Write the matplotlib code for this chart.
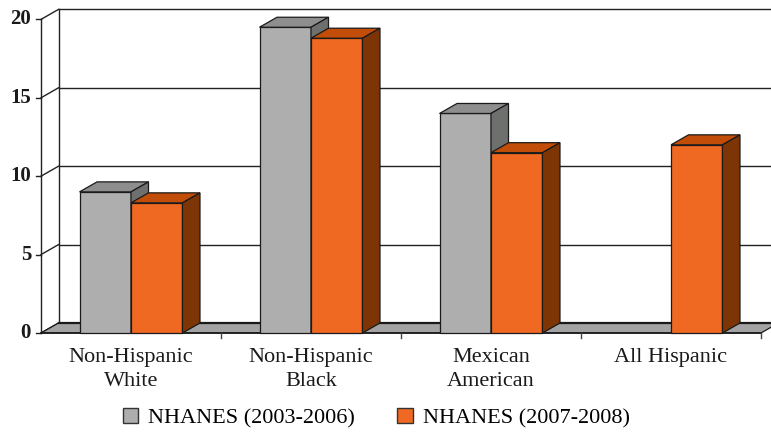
import matplotlib.pyplot as plt
from matplotlib.patches import Polygon, Patch

# data
categories = ['Non-Hispanic\nWhite', 'Non-Hispanic\nBlack', 'Mexican\nAmerican', 'All Hispanic']
nhanes_0306 = [9.0, 19.5, 14.0, None]
nhanes_0708 = [8.3, 18.8, 11.5, 12.0]
series_names = ['NHANES (2003-2006)', 'NHANES (2007-2008)']
yticks = [0, 5, 10, 15, 20]

# colours: front, top, side
gray = ('#ADAEAD', '#8E8E8E', '#6E706E')
orange = ('#EF6922', '#C24D08', '#7E3506')
edge = '#1a1a1a'

# pseudo-3D depth offset (in data units)
dx = 17.5 / 180
dy = 10 / 15.68
w = 0.286

plt.rcParams['font.family'] = ['Liberation Serif', 'DejaVu Serif']

fig = plt.figure(figsize=(7.71, 4.33), dpi=100)
ax = fig.add_axes([0, 0, 1, 1])
ax.set_xlim((0 - 41) / 180 - 0.5, (771 - 41) / 180 - 0.5)
ax.set_ylim((333 - 433) / 15.68, 333 / 15.68)
ax.axis('off')

n = len(categories)
x_lo, x_hi = -0.5, n - 0.5
ymax = yticks[-1]

# back wall: gridlines and left edge
for v in yticks[1:]:
    ax.plot([x_lo + dx, x_hi + dx], [v + dy, v + dy], color='#222222', lw=1.0, zorder=1)
ax.plot([x_lo + dx, x_lo + dx], [dy, ymax + dy], color='#222222', lw=1.0, zorder=1)

# front value axis with ticks and diagonals
ax.plot([x_lo, x_lo], [0, ymax], color='#222222', lw=1.0, zorder=1)
for v in yticks:
    ax.plot([x_lo - 0.028, x_lo], [v, v], color='#222222', lw=1.0, zorder=1)
    ax.plot([x_lo, x_lo + dx], [v, v + dy], color='#222222', lw=1.0, zorder=1)
    ax.text(x_lo - 0.055, v, str(v), ha='right', va='center',
            fontsize=15, fontweight='bold', color='#1a1a1a')

# floor
floor = Polygon([(x_lo, 0), (x_hi, 0), (x_hi + dx, dy), (x_lo + dx, dy)],
                facecolor='#A3A3A3', edgecolor=edge, lw=0.9, zorder=2)
ax.add_patch(floor)
ax.plot([x_lo + dx, x_hi + dx], [dy, dy], color=edge, lw=1.6, zorder=2)
ax.plot([x_lo, x_hi], [0, 0], color=edge, lw=1.2, zorder=2)

# category boundary ticks
for i in range(n):
    ax.plot([i + 0.5, i + 0.5], [0, -0.35], color='#444444', lw=1.0, zorder=2)


def draw_bar(x0, h, cols, z):
    x1 = x0 + w
    ax.bar(x0, h, width=w, align='edge', color=cols[0], edgecolor=edge, lw=0.9, zorder=z)
    top = Polygon([(x0, h), (x1, h), (x1 + dx, h + dy), (x0 + dx, h + dy)],
                  facecolor=cols[1], edgecolor=edge, lw=0.9, zorder=z)
    side = Polygon([(x1, 0), (x1 + dx, dy), (x1 + dx, h + dy), (x1, h)],
                   facecolor=cols[2], edgecolor=edge, lw=0.9, zorder=z)
    ax.add_patch(top)
    ax.add_patch(side)


z = 3
for i in range(n):
    if nhanes_0306[i] is not None:
        draw_bar(i - w, nhanes_0306[i], gray, z)
        z += 1
    if nhanes_0708[i] is not None:
        draw_bar(i, nhanes_0708[i], orange, z)
        z += 1

# category labels
for i, lab in enumerate(categories):
    ax.text(i, -0.95, lab, ha='center', va='top', fontsize=16,
            linespacing=1.4, color='#1a1a1a')

handles = [Patch(facecolor=gray[0], edgecolor='#333333', lw=1.0),
           Patch(facecolor=orange[0], edgecolor='#333333', lw=1.0)]
ax.legend(handles, series_names, loc='center', bbox_to_anchor=(0.488, 1 - 418 / 433),
          ncol=2, frameon=False, fontsize=16, handlelength=0.7, handleheight=0.7,
          handletextpad=0.45, columnspacing=1.9, borderpad=0, borderaxespad=0)

fig.savefig('out.png', dpi=100)
